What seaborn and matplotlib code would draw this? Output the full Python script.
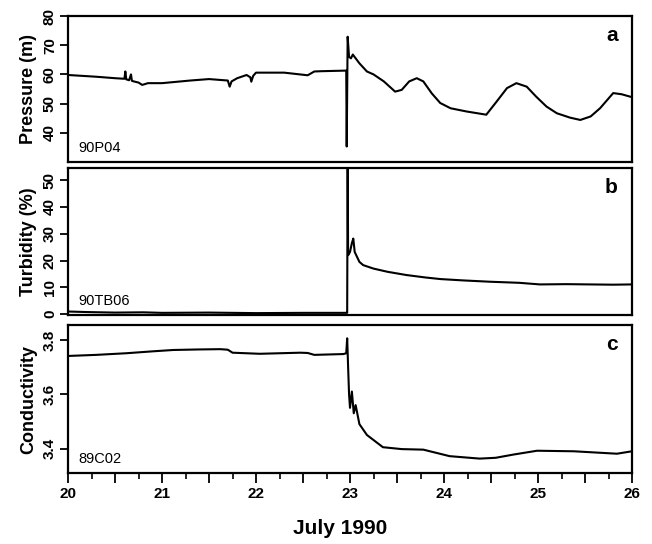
import matplotlib
matplotlib.use("Agg")
import matplotlib.pyplot as plt
from matplotlib.ticker import MultipleLocator, FuncFormatter
import seaborn as sns
import pandas as pd

# ---- data ----
t_pressure = [20.0, 20.3, 20.5, 20.6, 20.61, 20.62, 20.65, 20.67, 20.68, 20.7, 20.75, 20.79,
              20.85, 21.0, 21.3, 21.5, 21.7, 21.72, 21.74, 21.8, 21.9, 21.94, 21.95, 21.97,
              22.0, 22.3, 22.55, 22.62, 22.7, 22.96, 22.965, 22.975, 22.99, 23.01, 23.03,
              23.1, 23.18, 23.25, 23.36, 23.48, 23.55, 23.63, 23.71, 23.78, 23.87, 23.96,
              24.07, 24.24, 24.45, 24.56, 24.67, 24.77, 24.88, 24.98, 25.09, 25.2, 25.34,
              25.45, 25.56, 25.66, 25.80, 25.89, 26.0]
pressure = [59.8, 59.2, 58.7, 58.5, 61.0, 58.3, 58.0, 60.0, 57.8, 57.6, 57.2, 56.4,
            57.0, 57.0, 57.9, 58.4, 57.9, 55.8, 57.6, 58.7, 59.8, 59.0, 57.5, 59.5,
            60.6, 60.6, 59.7, 61.0, 61.1, 61.3, 35.3, 72.9, 66.0, 65.5, 66.8,
            63.8, 61.0, 60.0, 57.6, 54.1, 54.7, 57.6, 58.7, 57.6, 53.5, 50.2,
            48.4, 47.3, 46.2, 50.7, 55.3, 57.0, 55.8, 52.4, 49.0, 46.7, 45.2,
            44.4, 45.6, 48.4, 53.6, 53.2, 52.2]

t_turbidity = [20.0, 20.2, 20.5, 20.8, 21.0, 21.5, 22.0, 22.5, 22.96, 22.97, 22.975,
               22.98, 23.0, 23.02, 23.035, 23.05, 23.1, 23.14, 23.25, 23.4, 23.6, 23.8,
               23.96, 24.2, 24.49, 24.8, 25.02, 25.3, 25.55, 25.8, 26.0]
turbidity = [1.0, 0.8, 0.6, 0.7, 0.5, 0.6, 0.4, 0.5, 0.5, 0.5, 60.0,
             22.0, 23.2, 26.5, 28.2, 23.2, 19.5, 18.3, 17.0, 15.8, 14.6, 13.7,
             13.1, 12.6, 12.1, 11.7, 11.1, 11.2, 11.1, 11.0, 11.1]

t_conductivity = [20.0, 20.3, 20.62, 20.9, 21.12, 21.4, 21.62, 21.7, 21.75, 22.04, 22.47,
                  22.55, 22.62, 22.93, 22.96, 22.97, 22.98, 22.99, 23.0, 23.02, 23.04,
                  23.06, 23.1, 23.18, 23.35, 23.55, 23.78, 24.06, 24.38, 24.55, 24.74,
                  24.99, 25.38, 25.84, 26.0]
conductivity = [3.741, 3.745, 3.751, 3.758, 3.763, 3.765, 3.766, 3.764, 3.753, 3.749, 3.753,
                3.752, 3.745, 3.748, 3.751, 3.806, 3.70, 3.60, 3.55, 3.61, 3.53,
                3.56, 3.49, 3.45, 3.405, 3.398, 3.396, 3.372, 3.363, 3.366, 3.378,
                3.392, 3.39, 3.381, 3.39]

panel_letters = ["a", "b", "c"]
sensor_ids = ["90P04", "90TB06", "89C02"]
y_labels = ["Pressure (m)", "Turbidity (%)", "Conductivity"]
x_ticklabels = ["20", "21", "22", "23", "24", "25", "26"]
x_label = "July 1990"

# ---- style ----
sns.set_theme(style="ticks")
plt.rcParams["font.family"] = ["Liberation Sans", "DejaVu Sans"]
plt.rcParams["text.color"] = "black"
plt.rcParams["axes.labelcolor"] = "black"

fig = plt.figure(figsize=(6.52, 5.44), dpi=100)
fig.patch.set_facecolor("white")

W, H = 652.0, 544.0
left, right = 68, 632
boxes = [(16, 162), (168, 315), (325, 473)]
axes = []
for top, bot in boxes:
    ax = fig.add_axes([left / W, (H - bot) / H, (right - left) / W, (bot - top) / H])
    axes.append(ax)

series = [
    (t_pressure, pressure, (30, 80), [40, 50, 60, 70, 80], "{:.0f}"),
    (t_turbidity, turbidity, (-0.3, 54.5), [0, 10, 20, 30, 40, 50], "{:.0f}"),
    (t_conductivity, conductivity, (3.31, 3.855), [3.4, 3.6, 3.8], "{:.1f}"),
]

for i, (ax, (t, v, ylim, yticks, fmt)) in enumerate(zip(axes, series)):
    df = pd.DataFrame({"day": t, "value": v})
    sns.lineplot(data=df, x="day", y="value", ax=ax, color="black", lw=1.5,
                 sort=False, estimator=None)
    ax.set_xlim(20, 26)
    ax.set_ylim(*ylim)
    ax.set_yticks(yticks)
    ax.set_yticklabels([fmt.format(y) for y in yticks])
    ax.set_ylabel(y_labels[i], fontsize=13, fontweight="bold", labelpad=4, color="black")
    ax.set_xlabel("")
    for s in ax.spines.values():
        s.set_linewidth(1.6)
        s.set_color("black")
    ax.tick_params(axis="y", direction="out", length=6, width=1.3, labelsize=11,
                   labelrotation=90, pad=2, colors="black")
    for lab in ax.get_yticklabels():
        lab.set_va("center")
        lab.set_fontweight("bold")
    ax.text(0.975, 0.93, panel_letters[i], transform=ax.transAxes, ha="right", va="top",
            fontsize=15, fontweight="bold", color="black")
    ax.text(0.018, 0.05, sensor_ids[i], transform=ax.transAxes, ha="left", va="bottom",
            fontsize=10.5, color="black")
    ax.grid(False)
    if i < 2:
        ax.tick_params(axis="x", bottom=False, labelbottom=False)
    else:
        ax.xaxis.set_major_locator(MultipleLocator(0.5))
        ax.xaxis.set_minor_locator(MultipleLocator(0.25))
        ax.xaxis.set_major_formatter(FuncFormatter(
            lambda x, p: x_ticklabels[int(round(x)) - 20] if abs(x - round(x)) < 1e-6 else ""))
        ax.tick_params(axis="x", which="major", direction="out", length=7, width=1.3,
                       labelsize=11, colors="black", pad=3)
        ax.tick_params(axis="x", which="minor", direction="out", length=4, width=1.2,
                       colors="black")
        for lab in ax.get_xticklabels():
            lab.set_fontweight("bold")

fig.text(340 / W, 1 - 528 / H, x_label, ha="center", va="center", fontsize=15,
         fontweight="bold", color="black")

fig.savefig("out.png", dpi=100, facecolor="white")
